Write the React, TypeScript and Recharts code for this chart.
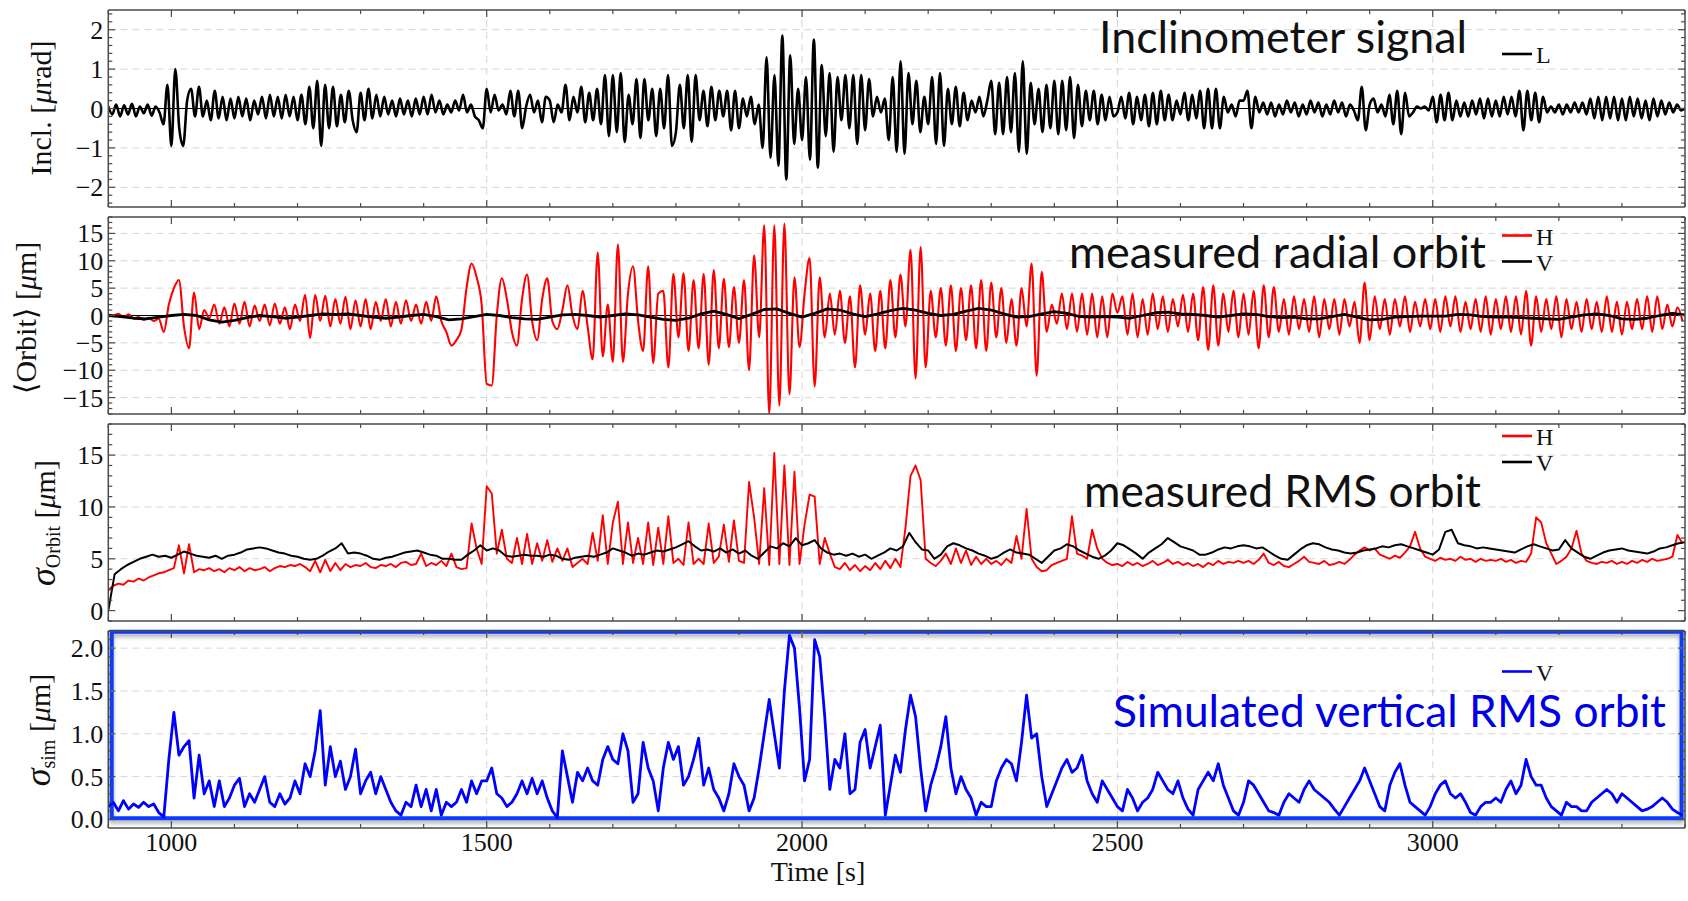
import React from 'react';
import { LineChart, Line, XAxis, YAxis, ReferenceLine, ReferenceArea } from 'recharts';

// ---- time axis -------------------------------------------------------------
const T_START = 900;
const T_END = 3400;
const STEP_INCL = 6.25; // s between samples of the inclinometer trace
const STEP_FAST = 8; // s between samples of the other oscillating traces
const STEP_ORBIT_V = 20;
const STEP_RMS_V = 10;

const X_MAJOR = [1000, 1500, 2000, 2500, 3000];
const X_LABELS = ['1000', '1500', '2000', '2500', '3000'];
const X_GRID = [1500, 2000, 2500, 3000];

// ---- inclinometer signal L [µrad], every 6.25 s from 900 s (one row = 100 s) --
const INCL = [
  0.05, -0.15, 0.1, -0.2, 0.08, -0.15, 0.12, -0.2, 0.05, -0.12, 0.1, -0.18, 0.05, -0.1, -0.4, 0.6,
  -0.95, 1.0, -0.5, -0.95, 0.2, 0.5, -0.2, 0.55, -0.2, 0.2, -0.3, 0.45, -0.25, 0.3, -0.3, 0.25,
  -0.25, 0.3, -0.2, 0.25, -0.3, 0.2, -0.15, 0.3, -0.25, 0.35, -0.2, 0.3, -0.25, 0.35, -0.2, 0.3,
  -0.3, 0.35, -0.4, 0.55, -0.5, 0.7, -0.95, 0.6, -0.5, 0.55, -0.45, 0.35, -0.35, 0.45, -0.3, -0.6,
  0.4, -0.3, 0.5, -0.25, 0.35, -0.2, 0.3, -0.15, 0.2, -0.2, 0.25, -0.15, 0.2, -0.2, 0.25, -0.15,
  0.3, -0.15, 0.35, -0.1, 0.2, -0.15, 0.1, -0.1, 0.2, -0.05, 0.35, -0.1, 0.1, -0.2, -0.3, -0.5,
  0.5, -0.1, 0.35, -0.05, 0.1, -0.15, 0.45, -0.2, 0.45, -0.5, 0.05, 0.35, -0.1, 0.2, -0.35, 0.3,
  0.2, -0.35, 0.1, -0.1, 0.6, -0.3, 0.3, -0.1, 0.55, -0.35, 0.4, -0.3, 0.5, -0.4, 0.85, -0.7,
  0.85, -0.6, 0.9, -0.85, 0.35, -0.4, 0.75, -0.75, 0.75, -0.3, 0.5, -0.7, 0.5, -0.5, 0.85, -0.95,
  -0.6, 0.6, -0.5, 0.85, -0.85, 0.85, -0.3, 0.45, -0.45, 0.55, -0.3, 0.45, -0.2, 0.45, -0.55, 0.45,
  -0.5, 0.25, -0.2, 0.3, -0.4, 0.1, -1.0, 1.3, -1.25, 0.85, -1.45, 1.85, -1.8, 1.35, -0.9, 0.5,
  -0.8, 0.8, -1.3, 1.75, -1.5, 1.1, -0.7, 0.9, -1.1, 0.8, -0.3, 0.85, -0.5, 0.85, -0.9, 0.85,
  -0.55, 0.75, -0.2, 0.3, -0.1, 0.25, -0.8, 0.8, -1.1, 1.2, -1.15, 0.9, -0.4, 0.7, -0.6, 0.3,
  -0.4, 0.8, -0.9, 0.9, -0.95, 0.5, -0.4, 0.55, -0.45, 0.4, -0.3, 0.2, -0.1, 0.3, -0.2, 0.2,
  0.7, -0.65, 0.65, -0.65, 0.8, -0.6, 0.9, -1.1, 1.2, -1.15, 0.65, -0.4, 0.5, -0.6, 0.6, -0.5,
  0.7, -0.65, 0.7, -0.55, 0.8, -0.75, 0.6, -0.45, 0.45, -0.3, 0.45, -0.4, 0.35, -0.3, 0.3, -0.2,
  -0.1, 0.3, -0.25, 0.4, -0.4, 0.3, -0.3, 0.35, -0.45, 0.4, -0.4, 0.45, -0.3, 0.35, -0.3, 0.2,
  -0.15, 0.4, -0.3, 0.35, -0.25, 0.45, -0.5, 0.5, -0.5, 0.5, -0.5, 0.3, -0.1, 0.1, -0.2, 0.2,
  0.2, 0.45, -0.5, 0.3, -0.1, 0.15, -0.15, 0.15, -0.2, 0.1, -0.15, 0.2, -0.1, 0.15, -0.2, 0.1,
  -0.15, 0.2, -0.1, 0.15, -0.2, 0.1, -0.15, 0.2, -0.1, 0.15, -0.2, 0.1, -0.05, -0.3, 0.55, -0.55,
  0.1, 0.25, -0.1, 0.1, -0.2, 0.35, -0.4, 0.45, -0.65, 0.4, -0.2, -0.1, 0.05, 0, 0.05, -0.05,
  0.3, -0.35, 0.35, -0.3, 0.4, -0.3, 0.2, -0.2, 0.15, -0.2, 0.2, -0.15, 0.25, -0.25, 0.25, -0.2,
  0.2, -0.2, 0.3, -0.15, 0.3, -0.2, 0.45, -0.55, 0.45, -0.3, 0.4, -0.35, 0.3, -0.1, 0.05, -0.1,
  0.1, -0.15, 0.1, -0.1, 0.15, -0.1, 0.15, -0.15, 0.25, -0.25, 0.3, -0.3, 0.3, -0.25, 0.3, -0.3,
  0.25, -0.3, 0.3, -0.2, 0.25, -0.25, 0.2, -0.3, 0.25, -0.2, 0.2, -0.15, 0.15, -0.1, 0.1, -0.05, 0,
];

// ---- measured radial orbit H [µm], every 8 s ---------------------------------
const ORBIT_H = [
  0.2, 0, 0.3, -0.3, 0.2, -0.5, -0.3, -0.8, -0.4, -1.0, -0.6, -3.0, 2.0, 5.0, 6.5, -2.0, -6.0, 4.2, -2.5, 1.0, -0.5, 2.0, -1.5, 1.5, -2.0,
  2.2, -1.5, 2.5, -2.0, 1.8, -1.0, 2.0, -1.8, 2.2, -1.5, 1.5, -2.5, 2.0, -1.0, 3.8, -4.1, 3.8, -1.0, 3.6, -2.0, 3.0, -1.5, 3.4, -2.5, 2.8,
  -2.0, 3.0, -2.5, 2.5, -1.0, 3.0, -2.0, 2.5, -1.5, 2.8, -1.0, 2.0, -1.5, 2.5, -1.0, 3.5, -1.0, -3.0, -5.5, -4.5, -2.5, 5.0, 9.5, 7.0, 2.0,
  -12.5, -12.8, 0, 6.8, 3.0, -3.0, -5.5, 3.0, 7.5, -1.0, -4.5, 3.0, 6.8, -1.0, -2.5, 1.0, 5.5, 0, -2.5, 4.5, -2.0, -8.0, 11.5, -7.5, 2.0,
  -8.5, 13.0, -8.5, 4.0, 9.0, -1.0, -6.5, 9.0, -8.7, 4.0, 4.5, -9.5, 7.6, -4.0, 7.7, -6.5, 6.5, -6.0, 7.6, -9.0, 8.3, -6.0, 6.7, -5.8, 5.2,
  -5.0, 6.5, -10.0, 11.0, -4.0, 16.5, -18.0, 16.5, -16.5, 16.8, -14.4, 7.0, -5.8, 4.0, 10.5, -13.0, 7.0, -4.0, 4.0, -3.5, 4.5, -5.0, 3.5, -9.5, 5.5,
  -3.5, 4.0, -6.5, 4.5, -6.0, 6.5, -4.0, 7.5, -2.0, 12.0, -11.5, 12.5, -9.5, 4.5, -4.0, 5.0, -5.5, 5.5, -6.5, 5.0, -4.5, 5.5, -6.0, 6.5, -6.5,
  6.0, -4.0, 5.0, -5.0, 3.0, -5.5, 5.0, -2.0, 9.5, -11.0, 8.0, -3.0, 2.0, -1.5, 4.0, -2.5, 4.0, -3.0, 4.0, -3.5, 4.0, -4.0, 3.5, -4.0, 4.0,
  0.5, 3.5, -3.5, 4.0, -4.0, 3.0, -3.5, 4.0, -2.5, 3.5, -3.0, 3.0, -2.0, 3.8, -3.0, 4.0, -4.5, 5.2, -6.3, 5.5, -5.5, 4.0, -3.0, 4.5, -4.0,
  4.0, -3.5, 4.5, -6.0, 5.5, -4.0, 5.2, -3.0, 3.0, -3.5, 3.5, -2.5, 3.0, -3.0, 3.5, -4.0, 3.0, -2.5, 3.0, -3.5, 3.0, -2.0, 2.5, -5.0, 6.0,
  -4.5, 3.5, -2.5, 3.0, -3.5, 3.0, -2.0, 3.5, -3.0, 2.5, -2.0, 3.0, -2.5, 3.0, -3.0, 3.5, -2.0, 3.5, -3.0, 2.5, -2.5, 3.0, -3.0, 3.5, -3.5,
  3.0, -2.5, 3.5, -3.0, 3.5, -3.5, 4.5, -5.5, 3.5, -3.0, 3.0, -2.5, 3.5, -4.0, 3.0, -2.5, 2.5, -3.0, 3.0, -2.5, 2.5, -3.0, 3.5, -3.0, 2.5,
  -3.5, 2.5, -2.5, 3.0, -2.5, 3.5, -3.0, 3.5, -2.5, 2.0, -2.0, 1.5, -1.0,
];

// ---- measured radial orbit V [µm], every 20 s --------------------------------
const ORBIT_V = [
  0, -0.2, -0.5, -0.6, -0.3, 0, 0.2, 0, -0.8, -1.2,
  -0.9, -0.4, 0, -0.2, -0.5, -0.3, 0, 0.3, 0.2, 0.3,
  0, -0.3, -0.5, -0.3, 0, 0.2, -0.2, -0.8, -0.6, -0.2,
  0.2, 0, -0.4, -0.6, -0.7, -0.3, 0.1, 0.2, 0, -0.3,
  0, 0.3, 0.1, -0.3, -0.7, -0.9, -0.5, 0.3, 0.8, 0.2,
  -0.6, 0.2, 1.1, 1.2, 0.4, -0.3, 0.4, 1.2, 1.0, 0.3,
  -0.2, 0.3, 0.9, 1.3, 1.0, 0.4, 0, 0.2, 0.8, 1.3,
  1.0, 0.3, -0.3, -0.2, 0.3, 0.7, 0.4, -0.2, -0.3, -0.2,
  -0.3, -0.5, 0, 0.5, 0.6, 0.3, 0.2, 0, -0.3, 0,
  0.3, 0.2, -0.2, -0.4, -0.3, -0.6, -0.6, -0.2, 0.2, -0.3,
  -0.8, -0.7, -0.3, -0.2, -0.1, -0.1, -0.1, 0.2, 0.1, -0.2,
  -0.3, -0.3, -0.4, -0.5, -0.6, -0.7, -0.3, 0.1, 0.3, 0,
  -0.6, -0.7, -0.5, 0, 0.4, 0.1,
];

// ---- measured RMS orbit H [µm], every 8 s ------------------------------------
const RMS_H = [
  2.0, 2.4, 2.6, 2.5, 2.9, 2.8, 3.1, 2.9, 3.2, 3.4, 3.6, 3.7, 3.9, 4.1, 6.3, 3.6, 6.4, 3.7, 4.0, 3.9, 4.1, 3.8, 4.0, 3.7, 4.1,
  3.9, 4.2, 3.8, 4.1, 3.9, 4.0, 4.2, 3.8, 4.1, 4.3, 4.2, 4.4, 4.3, 4.5, 4.2, 3.8, 4.8, 3.7, 4.9, 3.8, 4.6, 3.9, 4.5, 4.2, 4.4,
  4.3, 4.6, 4.2, 4.1, 4.4, 4.3, 4.5, 4.2, 4.6, 4.7, 4.4, 4.5, 5.5, 4.3, 4.6, 4.4, 4.8, 4.3, 5.5, 4.2, 4.0, 4.1, 8.4, 6.0, 4.5,
  12.0, 11.3, 5.5, 7.8, 5.0, 4.6, 7.0, 4.5, 7.4, 4.5, 6.5, 4.8, 6.8, 4.7, 6.0, 4.8, 6.0, 4.2, 4.6, 5.0, 4.5, 7.5, 4.8, 9.2, 4.5,
  8.5, 10.5, 4.5, 8.5, 4.6, 7.0, 4.5, 8.5, 4.4, 8.0, 4.5, 9.1, 4.6, 5.0, 4.4, 8.5, 4.5, 5.0, 4.5, 8.4, 4.6, 5.2, 8.3, 4.7, 8.7,
  4.8, 4.6, 12.4, 9.0, 4.5, 11.8, 4.4, 15.2, 4.5, 14.0, 4.4, 13.4, 4.5, 8.3, 11.2, 11.0, 4.5, 7.0, 5.5, 4.2, 4.0, 4.6, 3.9, 4.4, 3.8,
  4.3, 3.9, 4.6, 4.0, 4.8, 4.1, 5.0, 4.2, 8.0, 13.0, 14.0, 12.6, 5.0, 4.6, 4.3, 4.8, 5.5, 4.5, 6.0, 4.6, 5.8, 4.4, 5.2, 4.5, 5.0,
  4.5, 4.8, 4.4, 5.0, 4.6, 7.2, 5.0, 9.8, 5.0, 4.2, 3.8, 3.9, 4.4, 4.6, 4.8, 5.0, 9.1, 5.5, 5.3, 5.0, 7.8, 6.0, 5.0, 4.6, 4.4,
  4.5, 4.3, 4.7, 4.4, 4.6, 4.3, 4.5, 4.8, 4.4, 4.6, 4.9, 4.5, 4.7, 4.4, 4.6, 4.3, 4.5, 4.2, 4.6, 4.4, 4.8, 4.5, 4.7, 4.6, 4.8,
  4.6, 4.8, 4.5, 4.9, 5.5, 4.6, 4.4, 4.7, 4.3, 4.2, 4.5, 4.8, 5.2, 4.7, 4.6, 4.5, 4.8, 4.4, 4.5, 4.7, 4.5, 4.9, 5.4, 5.8, 6.1,
  5.8, 6.0, 5.4, 5.2, 5.0, 5.3, 5.1, 5.6, 6.2, 7.6, 6.0, 5.2, 5.0, 4.8, 5.1, 4.9, 5.0, 4.8, 5.2, 4.9, 5.0, 4.7, 5.0, 4.8, 4.9,
  4.8, 5.0, 4.7, 4.9, 4.6, 4.8, 4.7, 5.5, 9.0, 8.5, 6.5, 5.5, 4.5, 4.8, 5.2, 6.0, 7.7, 5.5, 4.8, 4.6, 4.5, 4.7, 4.6, 4.8, 4.5,
  4.7, 4.5, 4.8, 4.6, 4.9, 4.7, 5.0, 4.8, 4.9, 5.0, 5.2, 7.3, 6.5,
];

// ---- measured RMS orbit V [µm], every 10 s -----------------------------------
const RMS_V = [
  0.0, 3.5, 4.0, 4.4, 4.7, 5.0, 5.2, 5.4, 5.2, 5.3,
  5.1, 5.4, 5.7, 5.5, 5.3, 5.2, 5.1, 5.3, 5.0, 5.3,
  5.4, 5.6, 5.9, 6.0, 6.1, 6.0, 5.8, 5.6, 5.5, 5.3,
  5.2, 5.0, 4.9, 5.0, 5.3, 5.7, 6.0, 6.5, 5.5, 5.6,
  5.5, 5.3, 5.0, 4.9, 5.1, 5.2, 5.4, 5.6, 5.7, 5.8,
  5.6, 5.4, 5.3, 5.0, 5.0, 4.9, 4.9, 5.4, 5.8, 6.3,
  5.8, 6.0, 5.8, 5.3, 5.2, 5.3, 5.4, 5.3, 5.3, 5.2,
  5.4, 5.3, 5.0, 4.9, 5.1, 5.2, 5.3, 5.2, 5.4, 5.6,
  6.0, 5.8, 5.6, 5.3, 5.5, 5.4, 5.6, 5.8, 5.7, 5.9,
  6.1, 6.4, 6.7, 6.2, 5.8, 5.9, 5.7, 6.0, 5.6, 5.9,
  5.5, 5.8, 5.3, 5.0, 5.6, 6.2, 6.0, 6.5, 6.2, 7.0,
  6.3, 6.5, 6.8, 6.0, 5.6, 5.4, 5.5, 5.3, 5.5, 5.2,
  5.4, 5.0, 5.3, 5.6, 6.0, 5.8, 6.2, 7.5, 6.6, 5.9,
  5.8, 5.0, 5.4, 6.2, 6.5, 6.3, 6.0, 5.8, 5.5, 5.3,
  5.0, 5.2, 5.6, 5.9, 5.6, 5.5, 5.4, 5.0, 4.6, 5.2,
  5.8, 6.0, 6.4, 6.2, 5.8, 5.5, 5.2, 5.0, 5.3, 5.8,
  6.5, 6.3, 5.9, 5.5, 5.0, 5.6, 6.0, 6.4, 7.0, 6.6,
  6.2, 6.0, 5.8, 5.4, 5.4, 5.6, 5.9, 6.1, 6.0, 6.2,
  6.3, 6.2, 6.0, 6.1, 5.7, 5.3, 5.0, 4.9, 5.4, 5.9,
  6.3, 6.5, 6.4, 6.1, 5.9, 5.8, 5.6, 5.5, 5.6, 5.8,
  5.9, 6.0, 6.2, 6.1, 6.3, 6.4, 6.2, 6.0, 5.8, 5.6,
  5.4, 5.9, 7.6, 7.8, 6.5, 6.3, 6.2, 6.0, 6.1, 6.0,
  5.9, 5.8, 5.7, 5.6, 5.9, 6.2, 6.4, 6.2, 6.0, 5.8,
  5.9, 6.8, 6.0, 5.6, 5.2, 5.0, 5.3, 5.6, 5.8, 5.9,
  6.0, 5.8, 5.7, 5.6, 5.5, 5.7, 6.0, 6.1, 6.3, 6.5,
  6.6,
];

// ---- simulated vertical RMS orbit [µm], every 8 s ----------------------------
const SIM_V = [
  0.15, 0.2, 0.1, 0.22, 0.12, 0.18, 0.14, 0.2, 0.15, 0.18, 0.08, 0.03, 0.7, 1.25, 0.75, 0.85, 0.92, 0.25, 0.75, 0.3, 0.45, 0.15, 0.45, 0.15, 0.25,
  0.4, 0.48, 0.15, 0.3, 0.2, 0.35, 0.5, 0.2, 0.15, 0.3, 0.18, 0.25, 0.45, 0.3, 0.65, 0.5, 0.8, 1.27, 0.4, 0.85, 0.5, 0.68, 0.35, 0.5, 0.82,
  0.3, 0.45, 0.55, 0.3, 0.5, 0.35, 0.2, 0.1, 0.05, 0.2, 0.15, 0.4, 0.15, 0.35, 0.1, 0.35, 0.05, 0.2, 0.15, 0.2, 0.35, 0.2, 0.45, 0.3, 0.45,
  0.45, 0.6, 0.3, 0.25, 0.15, 0.2, 0.3, 0.45, 0.3, 0.48, 0.3, 0.45, 0.25, 0.1, 0.02, 0.8, 0.5, 0.2, 0.55, 0.45, 0.6, 0.45, 0.4, 0.7, 0.85,
  0.7, 0.65, 1.0, 0.8, 0.2, 0.3, 0.9, 0.6, 0.45, 0.1, 0.6, 0.9, 0.7, 0.85, 0.4, 0.5, 0.7, 0.95, 0.4, 0.6, 0.35, 0.25, 0.1, 0.3, 0.65,
  0.5, 0.4, 0.1, 0.25, 0.6, 1.0, 1.4, 1.0, 0.6, 1.5, 2.15, 2.0, 1.3, 0.45, 0.7, 2.1, 1.9, 1.2, 0.35, 0.7, 0.6, 1.0, 0.3, 0.35, 0.9,
  1.05, 0.6, 0.85, 1.1, 0.05, 0.4, 0.75, 0.55, 1.05, 1.45, 1.2, 0.6, 0.1, 0.4, 0.6, 0.85, 1.2, 0.6, 0.3, 0.5, 0.35, 0.25, 0.05, 0.2, 0.15,
  0.15, 0.45, 0.6, 0.7, 0.65, 0.45, 0.9, 1.45, 0.95, 1.0, 0.5, 0.15, 0.3, 0.45, 0.6, 0.7, 0.55, 0.6, 0.75, 0.45, 0.3, 0.2, 0.45, 0.35, 0.25,
  0.15, 0.1, 0.35, 0.25, 0.1, 0.2, 0.25, 0.35, 0.55, 0.45, 0.35, 0.3, 0.45, 0.25, 0.12, 0.05, 0.35, 0.45, 0.55, 0.45, 0.65, 0.4, 0.25, 0.1, 0.05,
  0.2, 0.45, 0.4, 0.3, 0.2, 0.1, 0.08, 0.05, 0.2, 0.3, 0.25, 0.2, 0.35, 0.45, 0.35, 0.3, 0.25, 0.2, 0.12, 0.05, 0.15, 0.25, 0.35, 0.45, 0.6,
  0.45, 0.3, 0.15, 0.1, 0.4, 0.55, 0.65, 0.4, 0.2, 0.15, 0.1, 0.05, 0.15, 0.3, 0.4, 0.45, 0.3, 0.25, 0.3, 0.2, 0.08, 0.05, 0.15, 0.2, 0.2,
  0.25, 0.2, 0.35, 0.45, 0.3, 0.4, 0.7, 0.5, 0.4, 0.4, 0.25, 0.15, 0.1, 0.05, 0.2, 0.15, 0.15, 0.1, 0.1, 0.2, 0.25, 0.3, 0.35, 0.3, 0.2,
  0.3, 0.25, 0.2, 0.15, 0.1, 0.12, 0.15, 0.2, 0.25, 0.2, 0.12, 0.08, 0.05,
];

// ---- y-axis tick labels ------------------------------------------------------
const INCL_MAJOR = [-2, -1, 0, 1, 2];
const INCL_LABELS = ['\u22122', '\u22121', '0', '1', '2'];
const ORBIT_MAJOR = [-15, -10, -5, 0, 5, 10, 15];
const ORBIT_LABELS = ['\u221215', '\u221210', '\u22125', '0', '5', '10', '15'];
const RMS_MAJOR = [0, 5, 10, 15];
const RMS_LABELS = ['0', '5', '10', '15'];
const SIM_MAJOR = [0, 0.5, 1, 1.5, 2];
const SIM_LABELS = ['0.0', '0.5', '1.0', '1.5', '2.0'];

// ---- styling -----------------------------------------------------------------
const SERIF = '"Liberation Serif", "Times New Roman", "DejaVu Serif", serif';
const SANS = 'Lato, "Open Sans", "Noto Sans", sans-serif';
const FRAME = '#4a4a4a';
const GRID = '#d6d6d6';
const RED = '#ff0000';
const BLUE = '#0000ff';
const BOX_BLUE = '#0b3bff';
const PAGE_W = 1688;
const PLOT_LEFT = 108.3;
const PLOT_RIGHT = 1685;
const PLOT_H = 197;
const TICK_FONT = 26;

const toPoints = (vals: number[], step: number) => vals.map((v, i) => ({ t: T_START + i * step, v }));

// evenly spaced tick positions (used for the unlabelled minor ticks)
const tickRange = (a: number, b: number, d: number) => {
  const out: number[] = [];
  for (let k = 0; a + k * d <= b + 1e-9; k++) out.push(Number((a + k * d).toFixed(4)));
  return out;
};

const X_TICKS = tickRange(T_START, T_END, 100);

type Side = 'bottom' | 'top' | 'left' | 'right';

// Inward-pointing frame ticks, long for labelled values and short for the rest.
function makeTick(side: Side, majors: number[], labels: string[] | null) {
  return (props: any) => {
    const { x, y, payload } = props;
    const v = Number(payload && payload.value);
    const mi = majors.findIndex((m) => Math.abs(m - v) < 1e-6);
    const len = mi >= 0 ? 7 : 4;
    const st = { stroke: FRAME, strokeWidth: 1.2 };
    let mark;
    if (side === 'bottom') mark = <line x1={x} y1={y} x2={x} y2={y - len} {...st} />;
    else if (side === 'top') mark = <line x1={x} y1={y} x2={x} y2={y + len} {...st} />;
    else if (side === 'left') mark = <line x1={x} y1={y} x2={x + len} y2={y} {...st} />;
    else mark = <line x1={x} y1={y} x2={x - len} y2={y} {...st} />;
    let label = null;
    if (labels && mi >= 0) {
      if (side === 'bottom') {
        label = (
          <text x={x} y={y + 23} textAnchor="middle" fontFamily={SERIF} fontSize={TICK_FONT} fill="#111">
            {labels[mi]}
          </text>
        );
      } else if (side === 'left') {
        label = (
          <text x={x - 5} y={y + 9} textAnchor="end" fontFamily={SERIF} fontSize={TICK_FONT} fill="#111">
            {labels[mi]}
          </text>
        );
      }
    }
    return (
      <g>
        {mark}
        {label}
      </g>
    );
  };
}

type PanelSpec = {
  top: number;
  domain: [number, number];
  majors: number[];
  labels: string[];
  minor: number[];
  gridY: number[];
  xLabels: boolean;
};

const AXIS_LINE = { stroke: FRAME, strokeWidth: 1.5 };

function frameAxes(p: PanelSpec) {
  return [
    <XAxis
      key="xb"
      xAxisId="b"
      type="number"
      dataKey="t"
      domain={[T_START, T_END]}
      allowDataOverflow
      ticks={X_TICKS}
      interval={0}
      tickLine={false}
      tickSize={0}
      tickMargin={0}
      height={1}
      axisLine={AXIS_LINE}
      tick={makeTick('bottom', X_MAJOR, p.xLabels ? X_LABELS : null)}
    />,
    <XAxis
      key="xt"
      xAxisId="t"
      orientation="top"
      type="number"
      dataKey="t"
      domain={[T_START, T_END]}
      allowDataOverflow
      ticks={X_TICKS}
      interval={0}
      tickLine={false}
      tickSize={0}
      tickMargin={0}
      height={1}
      axisLine={AXIS_LINE}
      tick={makeTick('top', X_MAJOR, null)}
    />,
    <YAxis
      key="yl"
      yAxisId="l"
      type="number"
      domain={p.domain}
      allowDataOverflow
      ticks={p.minor}
      interval={0}
      tickLine={false}
      tickSize={0}
      tickMargin={0}
      width={100}
      axisLine={AXIS_LINE}
      tick={makeTick('left', p.majors, p.labels)}
    />,
    <YAxis
      key="yr"
      yAxisId="r"
      orientation="right"
      type="number"
      domain={p.domain}
      allowDataOverflow
      ticks={p.minor}
      interval={0}
      tickLine={false}
      tickSize={0}
      tickMargin={0}
      width={1}
      axisLine={AXIS_LINE}
      tick={makeTick('right', p.majors, null)}
    />,
    ...p.gridY.map((g) => (
      <ReferenceLine key={'gy' + g} xAxisId="b" yAxisId="l" y={g} stroke={GRID} strokeWidth={1} strokeDasharray="7 5" />
    )),
    ...X_GRID.map((g) => (
      <ReferenceLine key={'gx' + g} xAxisId="b" yAxisId="l" x={g} stroke={GRID} strokeWidth={1} strokeDasharray="7 5" />
    )),
  ];
}

const PANEL_INCL: PanelSpec = {
  top: 9.5,
  domain: [-2.5, 2.5],
  majors: INCL_MAJOR,
  labels: INCL_LABELS,
  minor: tickRange(-2.4, 2.4, 0.2),
  gridY: [-2, -1, 1, 2],
  xLabels: false,
};
const PANEL_ORBIT: PanelSpec = {
  top: 216.5,
  domain: [-18, 18],
  majors: ORBIT_MAJOR,
  labels: ORBIT_LABELS,
  minor: tickRange(-18, 18, 1),
  gridY: [-15, -10, -5, 5, 10, 15],
  xLabels: false,
};
const PANEL_RMS: PanelSpec = {
  top: 424,
  domain: [-1, 18],
  majors: RMS_MAJOR,
  labels: RMS_LABELS,
  minor: tickRange(-1, 18, 1),
  gridY: [5, 10, 15],
  xLabels: false,
};
const PANEL_SIM: PanelSpec = {
  top: 630.5,
  domain: [-0.1, 2.2],
  majors: SIM_MAJOR,
  labels: SIM_LABELS,
  minor: tickRange(0, 2.2, 0.1),
  gridY: [0.5, 1, 1.5, 2],
  xLabels: true,
};

const PAD = 10;

function chartBox(p: PanelSpec, extraBottom: number) {
  return {
    style: { position: 'absolute' as const, left: 0, top: p.top - PAD },
    width: PAGE_W,
    height: PLOT_H + 2 * PAD + extraBottom,
    margin: {
      top: PAD - 1,
      bottom: PAD - 1 + extraBottom,
      left: PLOT_LEFT - 100,
      right: PAGE_W - PLOT_RIGHT - 1,
    },
  };
}

const inclData = toPoints(INCL, STEP_INCL);
const orbitHData = toPoints(ORBIT_H, STEP_FAST);
const orbitVData = toPoints(ORBIT_V, STEP_ORBIT_V);
const rmsHData = toPoints(RMS_H, STEP_FAST);
const rmsVData = toPoints(RMS_V, STEP_RMS_V);
const simData = toPoints(SIM_V, STEP_FAST);

function Legend({ x, y, color, label }: { x: number; y: number; color: string; label: string }) {
  return (
    <g>
      <line x1={x} y1={y} x2={x + 30} y2={y} stroke={color} strokeWidth={2.6} />
      <text x={x + 34} y={y + 9} fontFamily={SERIF} fontSize={24} fill="#111">
        {label}
      </text>
    </g>
  );
}

export default function App() {
  const c1 = chartBox(PANEL_INCL, 0);
  const c2 = chartBox(PANEL_ORBIT, 0);
  const c3 = chartBox(PANEL_RMS, 0);
  const c4 = chartBox(PANEL_SIM, 60);
  const lineCommon = {
    xAxisId: 'b',
    yAxisId: 'l',
    dataKey: 'v',
    dot: false,
    activeDot: false,
    isAnimationActive: false,
    strokeLinejoin: 'round' as const,
  };

  return (
    <div style={{ position: 'absolute', left: 0, top: 0, width: PAGE_W, height: 901, background: '#fff', overflow: 'hidden' }}>
      <div style={c1.style}>
        <LineChart width={c1.width} height={c1.height} margin={c1.margin}>
          {frameAxes(PANEL_INCL)}
          <ReferenceLine xAxisId="b" yAxisId="l" y={0} stroke="#000" strokeWidth={1} />
          <Line {...lineCommon} type="monotone" data={inclData} stroke="#000" strokeWidth={2.6} />
        </LineChart>
      </div>

      <div style={c2.style}>
        <LineChart width={c2.width} height={c2.height} margin={c2.margin}>
          {frameAxes(PANEL_ORBIT)}
          <ReferenceLine xAxisId="b" yAxisId="l" y={0} stroke="#000" strokeWidth={1} />
          <Line {...lineCommon} type="monotone" data={orbitHData} stroke={RED} strokeWidth={2.1} />
          <Line {...lineCommon} type="linear" data={orbitVData} stroke="#000" strokeWidth={2.8} />
        </LineChart>
      </div>

      <div style={c3.style}>
        <LineChart width={c3.width} height={c3.height} margin={c3.margin}>
          {frameAxes(PANEL_RMS)}
          <Line {...lineCommon} type="linear" data={rmsHData} stroke={RED} strokeWidth={1.9} />
          <Line {...lineCommon} type="linear" data={rmsVData} stroke="#000" strokeWidth={2} />
        </LineChart>
      </div>

      <div style={c4.style}>
        <LineChart width={c4.width} height={c4.height} margin={c4.margin}>
          {frameAxes(PANEL_SIM)}
          <Line {...lineCommon} type="linear" data={simData} stroke={BLUE} strokeWidth={2.8} />
          <ReferenceArea
            xAxisId="b"
            yAxisId="l"
            x1={905.4}
            x2={3394.6}
            y1={0.015}
            y2={2.19}
            ifOverflow="visible"
            fill="none"
            fillOpacity={0}
            stroke={BOX_BLUE}
            strokeWidth={4}
            style={{ filter: 'drop-shadow(0px 3px 2px rgba(0,0,0,0.35))' }}
          />
        </LineChart>
      </div>

      <svg width={PAGE_W} height={901} style={{ position: 'absolute', left: 0, top: 0, pointerEvents: 'none' }}>
        {/* y-axis titles */}
        <text transform="translate(51,108) rotate(-90)" textAnchor="middle" fontFamily={SERIF} fontSize={30} fill="#111">
          Incl. [<tspan fontStyle="italic">μ</tspan>rad]
        </text>
        <text transform="translate(36,318) rotate(-90)" textAnchor="middle" fontFamily={SERIF} fontSize={30} fill="#111">
          {'\u27E8Orbit\u27E9 ['}
          <tspan fontStyle="italic">μ</tspan>m]
        </text>
        <text transform="translate(55,523) rotate(-90)" textAnchor="middle" fontFamily={SERIF} fontSize={30} fill="#111">
          <tspan fontStyle="italic" fontSize={36}>σ</tspan>
          <tspan fontSize={20} dy={5}>Orbit</tspan>
          <tspan dy={-5}> [</tspan>
          <tspan fontStyle="italic">μ</tspan>m]
        </text>
        <text transform="translate(50,730) rotate(-90)" textAnchor="middle" fontFamily={SERIF} fontSize={30} fill="#111">
          <tspan fontStyle="italic" fontSize={36}>σ</tspan>
          <tspan fontSize={20} dy={5}>sim</tspan>
          <tspan dy={-5}> [</tspan>
          <tspan fontStyle="italic">μ</tspan>m]
        </text>

        {/* x-axis title */}
        <text x={818} y={881} textAnchor="middle" fontFamily={SERIF} fontSize={28} fill="#111">
          Time [s]
        </text>

        {/* panel titles */}
        <text x={1099} y={53} fontFamily={SANS} fontSize={44} fill="#111" textLength={368} lengthAdjust="spacingAndGlyphs">
          Inclinometer signal
        </text>
        <text x={1069} y={268} fontFamily={SANS} fontSize={44} fill="#111" textLength={417} lengthAdjust="spacingAndGlyphs">
          measured radial orbit
        </text>
        <text x={1084} y={507} fontFamily={SANS} fontSize={44} fill="#111" textLength={397} lengthAdjust="spacingAndGlyphs">
          measured RMS orbit
        </text>
        <text x={1113} y={727} fontFamily={SANS} fontSize={44} fill="#0000e6" textLength={553} lengthAdjust="spacingAndGlyphs">
          Simulated vertical RMS orbit
        </text>

        {/* legends */}
        <Legend x={1502} y={54} color="#000" label="L" />
        <Legend x={1502} y={235.5} color={RED} label="H" />
        <Legend x={1502} y={261.5} color="#000" label="V" />
        <Legend x={1502} y={436} color={RED} label="H" />
        <Legend x={1502} y={462} color="#000" label="V" />
        <Legend x={1502} y={671.5} color={BLUE} label="V" />
      </svg>
    </div>
  );
}
